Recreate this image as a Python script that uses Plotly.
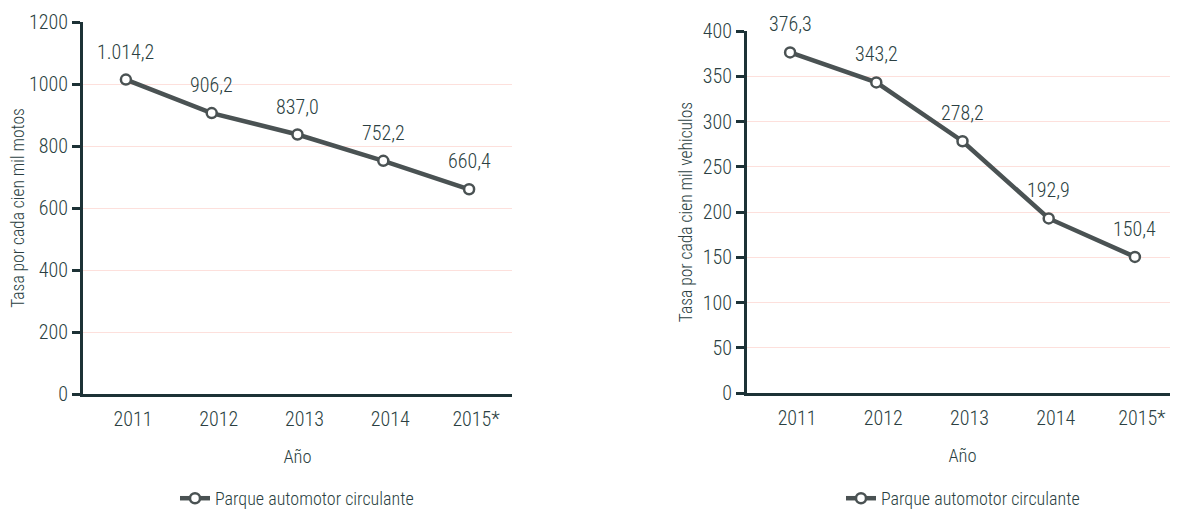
import plotly.graph_objects as go

years = ["2011", "2012", "2013", "2014", "2015*"]
motos = [1014.2, 906.2, 837.0, 752.2, 660.4]
motos_labels = ["1.014,2", "906,2", "837,0", "752,2", "660,4"]
vehiculos = [376.3, 343.2, 278.2, 192.9, 150.4]
vehiculos_labels = ["376,3", "343,2", "278,2", "192,9", "150,4"]
series_name = "Parque automotor circulante"

FONT = "Roboto Condensed, sans-serif"
TXT = "#2b3f42"
AX = "#1d3236"
LINE = "#4a5253"
GRID = "#fde0dc"

W, H = 1170, 501  # page body has an 8px margin inside the 1178x509 window

fig = go.Figure()
fig.add_trace(go.Scatter(
    x=years, y=motos, mode="lines+markers", name=series_name,
    line=dict(color=LINE, width=4.5),
    marker=dict(size=10, color="white", line=dict(color=LINE, width=2.5)),
    xaxis="x", yaxis="y", legend="legend", cliponaxis=False,
))
fig.add_trace(go.Scatter(
    x=years, y=vehiculos, mode="lines+markers", name=series_name,
    line=dict(color=LINE, width=4.5),
    marker=dict(size=10, color="white", line=dict(color=LINE, width=2.5)),
    xaxis="x2", yaxis="y2", legend="legend2", cliponaxis=False,
))

lab_font = dict(size=20, color=TXT, family=FONT, weight=300)
annotations = []
for i, (yv, t) in enumerate(zip(motos, motos_labels)):
    annotations.append(dict(x=i, y=yv, text=t, xref="x", yref="y", showarrow=False,
                            yshift=28, font=lab_font))
for i, (yv, t) in enumerate(zip(vehiculos, vehiculos_labels)):
    annotations.append(dict(x=i, y=yv, text=t, xref="x2", yref="y2", showarrow=False,
                            yshift=28, font=lab_font))

tick_font = dict(size=20, color=TXT, family=FONT, weight=300)
title_font = dict(size=17.5, color=TXT, family=FONT, weight=300)
leg_font = dict(size=18, color=TXT, family=FONT, weight=300)

xcommon = dict(type="category", range=[-0.5, 4.5], showgrid=False, showline=True,
               linecolor=AX, linewidth=3, ticks="outside", ticklen=5, tickcolor="rgba(0,0,0,0)",
               ticklabelshift=7, automargin=False,
               tickfont=tick_font,
               title=dict(text="Año", font=dict(size=18.5, color=TXT, family=FONT, weight=300), standoff=21))
ycommon = dict(showgrid=True, gridcolor=GRID, gridwidth=1.3, showline=True, linecolor=AX,
               linewidth=3, ticks="outside", ticklen=8, tickwidth=2.5, tickcolor=AX,
               zeroline=False, tickfont=tick_font, automargin=False)

fig.update_layout(
    width=W, height=H,
    margin=dict(l=0, r=0, t=0, b=0, autoexpand=False),
    paper_bgcolor="white", plot_bgcolor="white",
    showlegend=True,
    xaxis=dict(domain=[75 / W, 504 / W], anchor="y", **xcommon),
    xaxis2=dict(domain=[739 / W, 1.0], anchor="y2", **xcommon),
    yaxis=dict(domain=[1 - 386 / H, 1 - 14 / H], anchor="x", range=[0, 1200], dtick=200,
               title=dict(text="Tasa por cada cien mil motos", font=title_font, standoff=6),
               **ycommon),
    yaxis2=dict(domain=[1 - 385 / H, 1 - 23 / H], anchor="x2", range=[0, 400], dtick=50,
                title=dict(text="Tasa por cada cien mil vehiculos", font=title_font, standoff=6),
                **ycommon),
    legend=dict(x=289 / W, y=-0.016, xanchor="center", yanchor="bottom", orientation="h",
                font=leg_font, bgcolor="rgba(0,0,0,0)"),
    legend2=dict(x=955 / W, y=-0.016, xanchor="center", yanchor="bottom", orientation="h",
                 font=leg_font, bgcolor="rgba(0,0,0,0)"),
    annotations=annotations,
)

fig.write_html("out.html")
